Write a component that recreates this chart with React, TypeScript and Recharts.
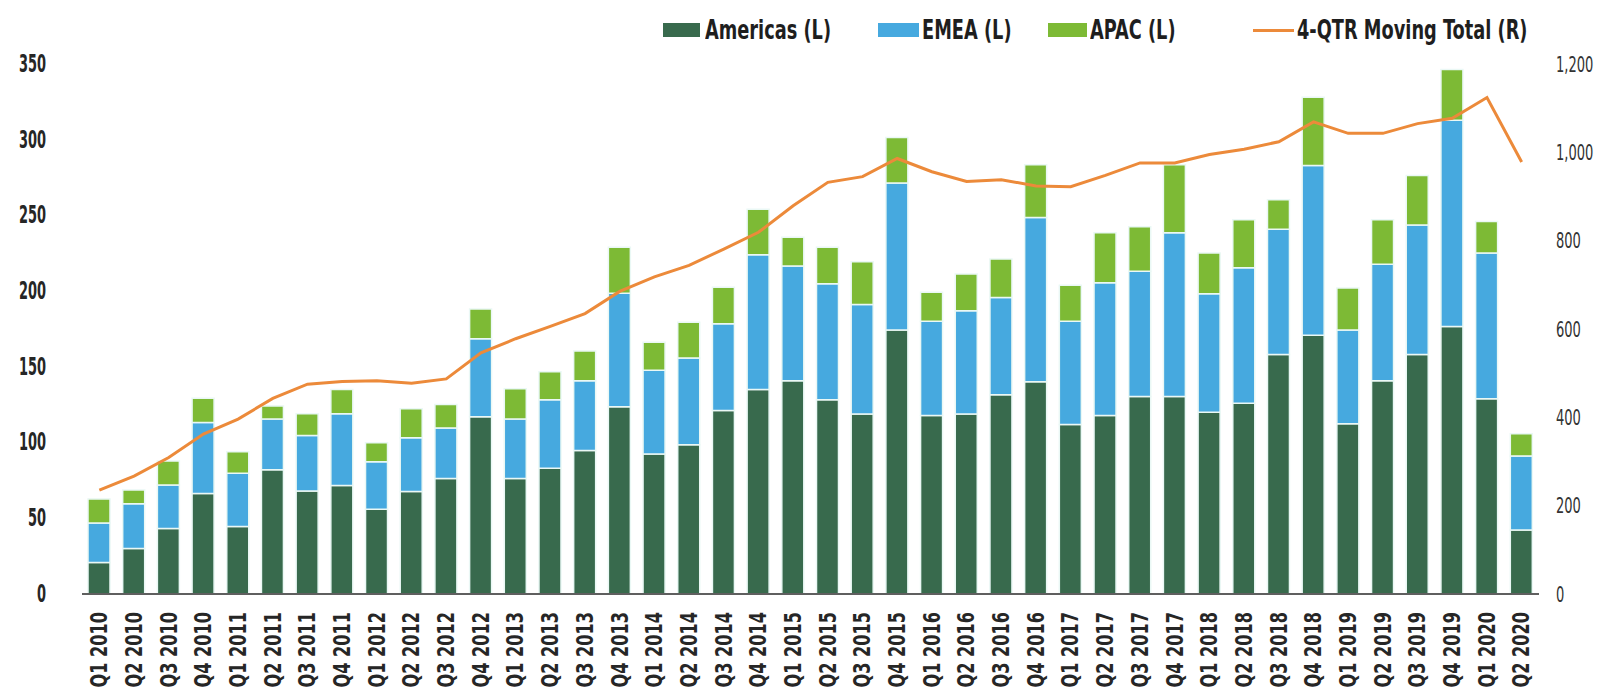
import React from 'react';
import { ComposedChart, Bar, Line, XAxis, YAxis } from 'recharts';

const quarters = [
  'Q1 2010', 'Q2 2010', 'Q3 2010', 'Q4 2010',
  'Q1 2011', 'Q2 2011', 'Q3 2011', 'Q4 2011',
  'Q1 2012', 'Q2 2012', 'Q3 2012', 'Q4 2012',
  'Q1 2013', 'Q2 2013', 'Q3 2013', 'Q4 2013',
  'Q1 2014', 'Q2 2014', 'Q3 2014', 'Q4 2014',
  'Q1 2015', 'Q2 2015', 'Q3 2015', 'Q4 2015',
  'Q1 2016', 'Q2 2016', 'Q3 2016', 'Q4 2016',
  'Q1 2017', 'Q2 2017', 'Q3 2017', 'Q4 2017',
  'Q1 2018', 'Q2 2018', 'Q3 2018', 'Q4 2018',
  'Q1 2019', 'Q2 2019', 'Q3 2019', 'Q4 2019',
  'Q1 2020', 'Q2 2020',
];

const americas = [
  20.8, 30.0, 43.2, 66.3, 44.6, 82.0, 68.1, 71.6, 55.9, 67.7, 76.2, 117.1,
  76.2, 83.1, 94.7, 123.6, 92.4, 98.6, 121.2, 135.1, 140.9, 128.2, 118.9, 174.4,
  117.8, 118.9, 131.6, 140.2, 112.0, 117.8, 130.5, 130.5, 120.1, 125.9, 158.2, 170.9,
  112.5, 140.9, 158.2, 176.7, 128.9, 42.3,
];

const emea = [
  26.1, 29.6, 28.8, 46.9, 35.1, 33.5, 36.5, 47.4, 31.4, 35.5, 33.5, 51.5,
  39.3, 45.1, 46.2, 75.0, 55.4, 57.3, 57.3, 88.9, 75.7, 76.6, 72.3, 97.0,
  62.3, 68.1, 64.2, 108.5, 68.1, 87.7, 82.7, 108.1, 78.1, 89.6, 82.7, 112.0,
  61.9, 76.9, 85.4, 136.2, 96.3, 48.9,
];

const apac = [
  15.9, 9.0, 15.8, 16.1, 14.3, 8.7, 14.4, 16.0, 12.5, 19.2, 15.5, 19.6,
  20.1, 18.5, 19.6, 30.4, 18.5, 23.5, 24.0, 30.0, 19.0, 24.2, 28.2, 30.0,
  19.2, 24.3, 25.4, 34.7, 23.8, 33.1, 29.3, 44.8, 27.0, 31.6, 19.4, 45.1,
  27.7, 29.3, 32.8, 33.5, 20.8, 14.6,
];

const movingTotal = [
  235, 267, 309, 362, 396, 443, 475, 481, 483, 477, 487, 546,
  578, 606, 635, 685, 718, 744, 781, 819, 879, 932, 945, 986,
  956, 934, 938, 924, 922, 948, 976, 976, 995, 1007, 1024, 1069,
  1043, 1043, 1065, 1077, 1124, 978,
];

const leftTicks = [0, 50, 100, 150, 200, 250, 300, 350];
const rightTicks = [0, 200, 400, 600, 800, 1000, 1200];

const seriesNames = ['Americas (L)', 'EMEA (L)', 'APAC (L)', '4-QTR Moving Total (R)'];

const COLORS = {
  americas: '#386A4D',
  emea: '#46A9DF',
  apac: '#7DBA35',
  line: '#EC8A3A',
};

const FONT = "'DejaVu Sans Condensed', 'DejaVu Sans', sans-serif";

const data = quarters.map((q, i) => ({
  q,
  americas: americas[i],
  emea: emea[i],
  apac: apac[i],
  total: movingTotal[i],
}));

const XTick = (props: any) => {
  const { x, y, payload } = props;
  return (
    <g transform={`translate(${x},${y + 18}) rotate(-90) scale(0.78,1)`}>
      <text
        x={0}
        y={0}
        textAnchor="end"
        dominantBaseline="central"
        fontFamily={FONT}
        fontWeight={700}
        fontSize={23}
        fill="#262626"
      >
        {payload.value}
      </text>
    </g>
  );
};

const LeftTick = (props: any) => {
  const { x, y, payload } = props;
  return (
    <g transform={`translate(${x},${y}) scale(0.6,1)`}>
      <text
        x={0}
        y={0}
        textAnchor="end"
        dominantBaseline="central"
        fontFamily={FONT}
        fontWeight={700}
        fontSize={24}
        fill="#262626"
      >
        {payload.value}
      </text>
    </g>
  );
};

const RightTick = (props: any) => {
  const { x, y, payload } = props;
  return (
    <g transform={`translate(${x},${y}) scale(0.66,1)`}>
      <text
        x={0}
        y={0}
        textAnchor="start"
        dominantBaseline="central"
        fontFamily={FONT}
        fontWeight={400}
        fontSize={22}
        fill="#333333"
      >
        {Number(payload.value).toLocaleString('en-US')}
      </text>
    </g>
  );
};

const legendLayout = [
  { swatchLeft: 655, swatchWidth: 37, textLeft: 697, kind: 'rect', color: COLORS.americas },
  { swatchLeft: 870, swatchWidth: 41, textLeft: 914, kind: 'rect', color: COLORS.emea },
  { swatchLeft: 1040, swatchWidth: 39, textLeft: 1082, kind: 'rect', color: COLORS.apac },
  { swatchLeft: 1245, swatchWidth: 41, textLeft: 1289, kind: 'line', color: COLORS.line },
];

const LegendOverlay = () => (
  <div style={{ position: 'absolute', left: 0, top: 0, width: 1595, height: 46, pointerEvents: 'none' }}>
    {legendLayout.map((it, i) => (
      <React.Fragment key={seriesNames[i]}>
        <div
          style={{
            position: 'absolute',
            left: it.swatchLeft,
            top: it.kind === 'rect' ? 15 : 21,
            width: it.swatchWidth,
            height: it.kind === 'rect' ? 14 : 3,
            background: it.color,
          }}
        />
        <div
          style={{
            position: 'absolute',
            left: it.textLeft,
            top: 5,
            height: 34,
            lineHeight: '34px',
            fontFamily: FONT,
            fontWeight: 700,
            fontSize: 26,
            color: '#1e1e1e',
            whiteSpace: 'nowrap',
            transform: 'scaleX(0.76)',
            transformOrigin: 'left center',
          }}
        >
          {seriesNames[i]}
        </div>
      </React.Fragment>
    ))}
  </div>
);

export default function App() {
  return (
    <div style={{ position: 'relative', width: 1595, height: 684, background: '#fff', overflow: 'hidden' }}>
      <ComposedChart
        width={1595}
        height={684}
        data={data}
        margin={{ top: 56, right: 0, bottom: 0, left: 0 }}
        barSize={22}
      >
        <XAxis
          dataKey="q"
          interval={0}
          tickLine={false}
          tickSize={0}
          tickMargin={0}
          height={98}
          axisLine={{ stroke: '#5f5f5f', strokeWidth: 2 }}
          tick={<XTick />}
        />
        <YAxis
          yAxisId="left"
          orientation="left"
          domain={[0, 350]}
          ticks={leftTicks}
          interval={0}
          width={74}
          axisLine={false}
          tickLine={false}
          tickSize={0}
          tickMargin={36}
          tick={<LeftTick />}
        />
        <YAxis
          yAxisId="right"
          orientation="right"
          domain={[0, 1200]}
          ticks={rightTicks}
          interval={0}
          width={64}
          axisLine={false}
          tickLine={false}
          tickSize={0}
          tickMargin={17}
          tick={<RightTick />}
        />
        <Bar
          yAxisId="left"
          dataKey="americas"
          name={seriesNames[0]}
          stackId="s"
          fill={COLORS.americas}
          stroke="#eaf8f5"
          strokeWidth={1.5}
          isAnimationActive={false}
        />
        <Bar
          yAxisId="left"
          dataKey="emea"
          name={seriesNames[1]}
          stackId="s"
          fill={COLORS.emea}
          stroke="#eaf8f5"
          strokeWidth={1.5}
          isAnimationActive={false}
        />
        <Bar
          yAxisId="left"
          dataKey="apac"
          name={seriesNames[2]}
          stackId="s"
          fill={COLORS.apac}
          stroke="#eaf8f5"
          strokeWidth={1.5}
          isAnimationActive={false}
        />
        <Line
          yAxisId="right"
          dataKey="total"
          name={seriesNames[3]}
          type="linear"
          stroke={COLORS.line}
          strokeWidth={3}
          dot={false}
          activeDot={false}
          isAnimationActive={false}
        />
      </ComposedChart>
      <LegendOverlay />
    </div>
  );
}
